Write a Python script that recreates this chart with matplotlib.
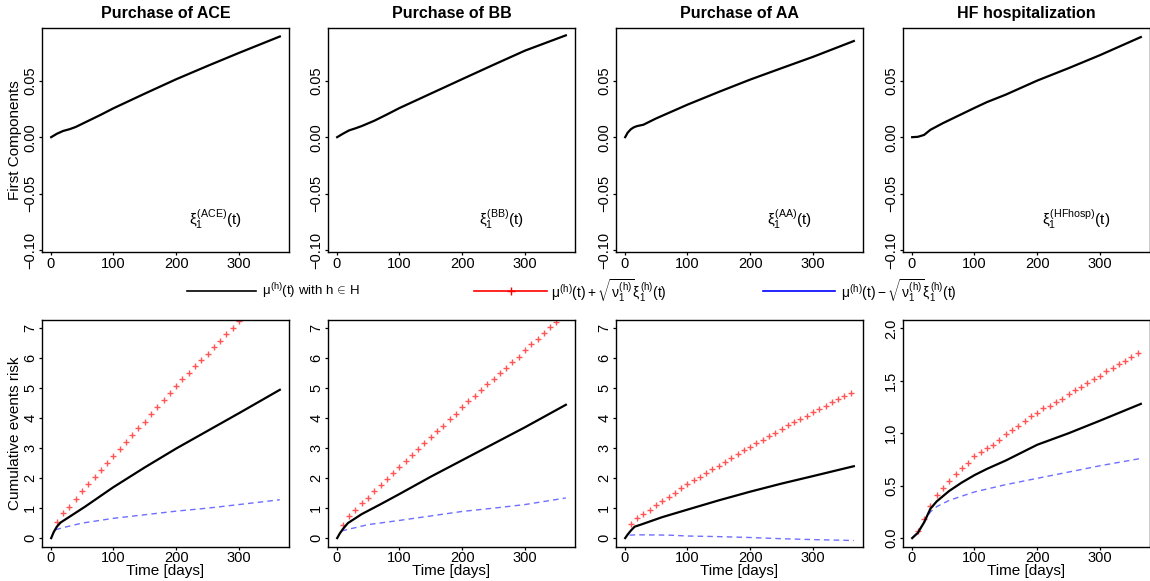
import numpy as np
import matplotlib
matplotlib.use("Agg")
import matplotlib.pyplot as plt
from matplotlib.lines import Line2D

plt.rcParams['font.family'] = ['Liberation Sans', 'DejaVu Sans']
plt.rcParams['mathtext.fontset'] = 'custom'
plt.rcParams['mathtext.rm'] = 'Liberation Sans'
plt.rcParams['mathtext.it'] = 'Liberation Sans'
plt.rcParams['mathtext.bf'] = 'Liberation Sans:bold'
plt.rcParams['axes.unicode_minus'] = True

titles = ["Purchase of ACE", "Purchase of BB", "Purchase of AA", "HF hospitalization"]
xi_labels = ["ACE", "BB", "AA", "HFhosp"]

# ---- top row: first components xi_1(t) ----
xi_t_ace = [1, 10, 20, 30, 40, 60, 80, 100, 150, 200, 250, 300, 365]
xi_ace = [0, 0.003, 0.0055, 0.007, 0.009, 0.0144, 0.0198, 0.0255, 0.0385, 0.0512, 0.063, 0.0745, 0.089]
xi_t_bb = [1, 10, 20, 30, 40, 60, 80, 100, 150, 200, 250, 300, 365]
xi_bb = [0, 0.003, 0.006, 0.0078, 0.0098, 0.0145, 0.020, 0.0257, 0.0385, 0.0513, 0.064, 0.0765, 0.090]
xi_t_aa = [1, 5, 10, 15, 20, 30, 50, 100, 150, 200, 250, 300, 365]
xi_aa = [0, 0.004, 0.007, 0.0088, 0.0098, 0.011, 0.0165, 0.0287, 0.040, 0.0509, 0.061, 0.071, 0.085]
xi_t_hf = [1, 10, 20, 30, 50, 100, 120, 150, 200, 250, 300, 365]
xi_hf = [0, 0.0003, 0.002, 0.0065, 0.0124, 0.0258, 0.031, 0.0376, 0.050, 0.061, 0.0725, 0.0885]

# ---- bottom row: cumulative events risk ----
# mean curve mu(t)
mu_t_ace = [1, 5, 10, 16, 30, 55, 100, 150, 200, 250, 300, 365]
mu_ace = [0, 0.2, 0.38, 0.52, 0.71, 1.05, 1.7, 2.36, 2.99, 3.58, 4.17, 4.95]
mu_t_bb = [1, 5, 10, 18, 40, 70, 100, 150, 200, 250, 300, 365]
mu_bb = [0, 0.15, 0.3, 0.5, 0.8, 1.13, 1.47, 2.05, 2.6, 3.15, 3.7, 4.45]
mu_t_aa = [1, 5, 10, 16, 30, 60, 100, 150, 200, 250, 300, 365]
mu_aa = [0, 0.12, 0.25, 0.38, 0.48, 0.7, 0.95, 1.26, 1.55, 1.82, 2.07, 2.4]
mu_t_hf = [1, 10, 20, 30, 40, 60, 80, 100, 120, 150, 180, 200, 250, 300, 365]
mu_hf = [0, 0.05, 0.15, 0.28, 0.35, 0.45, 0.53, 0.6, 0.66, 0.74, 0.83, 0.89, 1.0, 1.12, 1.28]

# mu + sqrt(nu) xi (plotted every 10 days)
up_t = [10, 20, 30, 40, 50, 60, 70, 80, 90, 100, 110, 120, 130, 140, 150, 160, 170, 180,
        190, 200, 210, 220, 230, 240, 250, 260, 270, 280, 290, 300, 310, 320, 330, 340, 350, 360]
up_ace = [0.53, 0.83, 1.03, 1.29, 1.56, 1.79, 2.03, 2.26, 2.50, 2.74, 2.97, 3.20, 3.43, 3.66,
          3.89, 4.13, 4.37, 4.61, 4.85, 5.09, 5.30, 5.52, 5.73, 5.94, 6.16, 6.37, 6.59, 6.80,
          7.01, 7.23, 7.44, 7.65, 7.86, 8.07, 8.28, 8.49]
up_bb = [0.45, 0.75, 0.95, 1.16, 1.35, 1.56, 1.76, 1.96, 2.16, 2.37, 2.56, 2.78, 2.97, 3.17,
         3.37, 3.57, 3.74, 3.96, 4.15, 4.36, 4.56, 4.73, 4.94, 5.13, 5.31, 5.50, 5.69, 5.89,
         6.06, 6.27, 6.47, 6.66, 6.84, 7.03, 7.22, 7.41]
up_aa = [0.47, 0.67, 0.81, 0.95, 1.10, 1.25, 1.38, 1.52, 1.66, 1.80, 1.93, 2.05, 2.17, 2.30,
         2.42, 2.55, 2.68, 2.80, 2.93, 3.05, 3.17, 3.28, 3.40, 3.52, 3.64, 3.76, 3.87, 3.98,
         4.09, 4.20, 4.31, 4.42, 4.53, 4.63, 4.73, 4.83]
up_hf = [0.07, 0.185, 0.31, 0.41, 0.475, 0.54, 0.61, 0.67, 0.72, 0.78, 0.82, 0.86, 0.89, 0.94,
         0.99, 1.03, 1.07, 1.12, 1.16, 1.19, 1.24, 1.26, 1.30, 1.33, 1.37, 1.41, 1.44, 1.48,
         1.52, 1.55, 1.59, 1.62, 1.66, 1.69, 1.73, 1.77]

# mu - sqrt(nu) xi
lo_t_ace = [8, 20, 50, 100, 150, 200, 250, 300, 365]
lo_ace = [0.28, 0.35, 0.5, 0.66, 0.78, 0.9, 1.0, 1.12, 1.28]
lo_t_bb = [8, 20, 50, 100, 150, 200, 250, 300, 365]
lo_bb = [0.24, 0.3, 0.45, 0.59, 0.74, 0.89, 1.0, 1.12, 1.34]
lo_t_aa = [8, 20, 70, 100, 150, 200, 250, 300, 365]
lo_aa = [0.1, 0.11, 0.1, 0.07, 0.05, 0.02, -0.02, -0.05, -0.08]
lo_t_hf = [1, 10, 20, 30, 40, 60, 100, 150, 200, 250, 300, 365]
lo_hf = [0, 0.06, 0.15, 0.25, 0.3, 0.36, 0.44, 0.51, 0.57, 0.63, 0.69, 0.76]

xi_t = [xi_t_ace, xi_t_bb, xi_t_aa, xi_t_hf]
xi_v = [xi_ace, xi_bb, xi_aa, xi_hf]
mu_t = [mu_t_ace, mu_t_bb, mu_t_aa, mu_t_hf]
mu_v = [mu_ace, mu_bb, mu_aa, mu_hf]
up_v = [up_ace, up_bb, up_aa, up_hf]
lo_t = [lo_t_ace, lo_t_bb, lo_t_aa, lo_t_hf]
lo_v = [lo_ace, lo_bb, lo_aa, lo_hf]
ymax_bottom = [7, 7, 7, 2]

W, H = 1150, 581
fig = plt.figure(figsize=(W / 100, H / 100), dpi=100)

lefts = [42, 328, 616, 903]
aw = 247

def style(ax):
    for s in ax.spines.values():
        s.set_linewidth(1.0)
    ax.tick_params(direction='out', length=2.5, width=0.9, labelsize=10.5, pad=1)
    ax.tick_params(axis='y', labelrotation=90)
    for lbl in ax.get_yticklabels():
        lbl.set_va('center')

xlim = (-13.6, 379.6)
for i in range(4):
    # top panel
    ax = fig.add_axes([lefts[i] / W, 1 - 252 / H, aw / W, 224 / H])
    ax.plot(xi_t[i], xi_v[i], color='black', lw=1.6)
    ax.set_xlim(*xlim)
    ax.set_ylim(-0.1015, 0.0965)
    ax.set_xticks([0, 100, 200, 300])
    ax.set_yticks([-0.10, -0.05, 0.0, 0.05])
    ax.set_yticklabels(['\u22120.10', '\u22120.05', '0.00', '0.05'])
    style(ax)
    ax.set_title(titles[i], fontsize=11.5, fontweight='bold', pad=7)
    ax.text(262, -0.073, r'$\xi_1^{(' + xi_labels[i] + r')}(t)$', ha='center', va='center', fontsize=11)
    if i == 0:
        ax.set_ylabel("First Components", fontsize=11, labelpad=1)

    # bottom panel
    ax2 = fig.add_axes([lefts[i] / W, 1 - 546.5 / H, aw / W, 226.5 / H])
    ym = ymax_bottom[i]
    ax2.plot(up_t, up_v[i], linestyle='none', marker='+', color='#ff5555', ms=4, mew=1.0)
    ax2.plot(lo_t[i], lo_v[i], color='#6e6eff', lw=1.0, dashes=(4, 3))
    ax2.plot(mu_t[i], mu_v[i], color='black', lw=1.6)
    ax2.set_xlim(*xlim)
    ax2.set_ylim(-0.04 * ym, 1.04 * ym)
    ax2.set_xticks([0, 100, 200, 300])
    if ym == 2:
        ax2.set_yticks([0, 0.5, 1.0, 1.5, 2.0])
        ax2.set_yticklabels(['0.0', '0.5', '1.0', '1.5', '2.0'])
    else:
        ax2.set_yticks(range(0, 8))
    style(ax2)
    ax2.set_xlabel("Time [days]", fontsize=11, labelpad=-1)
    if i == 0:
        ax2.set_ylabel("Cumulative events risk", fontsize=11, labelpad=1)

# legend row
ly = 1 - 291 / H
leg = [
    (187, 256, 'black', None, r'$\mu^{(h)}(t)$ with h$\,\in\,$H', 262, 9.5),
    (474, 547, 'red', '+', r'$\mu^{(h)}(t)+\sqrt{\nu_1^{(h)}}\xi_1^{(h)}(t)$', 551, 10),
    (763, 835, 'blue', None, r'$\mu^{(h)}(t)-\sqrt{\nu_1^{(h)}}\xi_1^{(h)}(t)$', 841, 10),
]
for x0, x1, c, m, txt, tx, fs in leg:
    fig.add_artist(Line2D([x0 / W, x1 / W], [ly, ly], color=c, lw=1.2, transform=fig.transFigure))
    if m:
        fig.add_artist(Line2D([(x0 + x1) / 2 / W], [ly], color=c, marker=m, ms=6, mew=1.0,
                              linestyle='none', transform=fig.transFigure))
    fig.text(tx / W, ly, txt, ha='left', va='center', fontsize=fs)

fig.savefig("out.png", dpi=100)
